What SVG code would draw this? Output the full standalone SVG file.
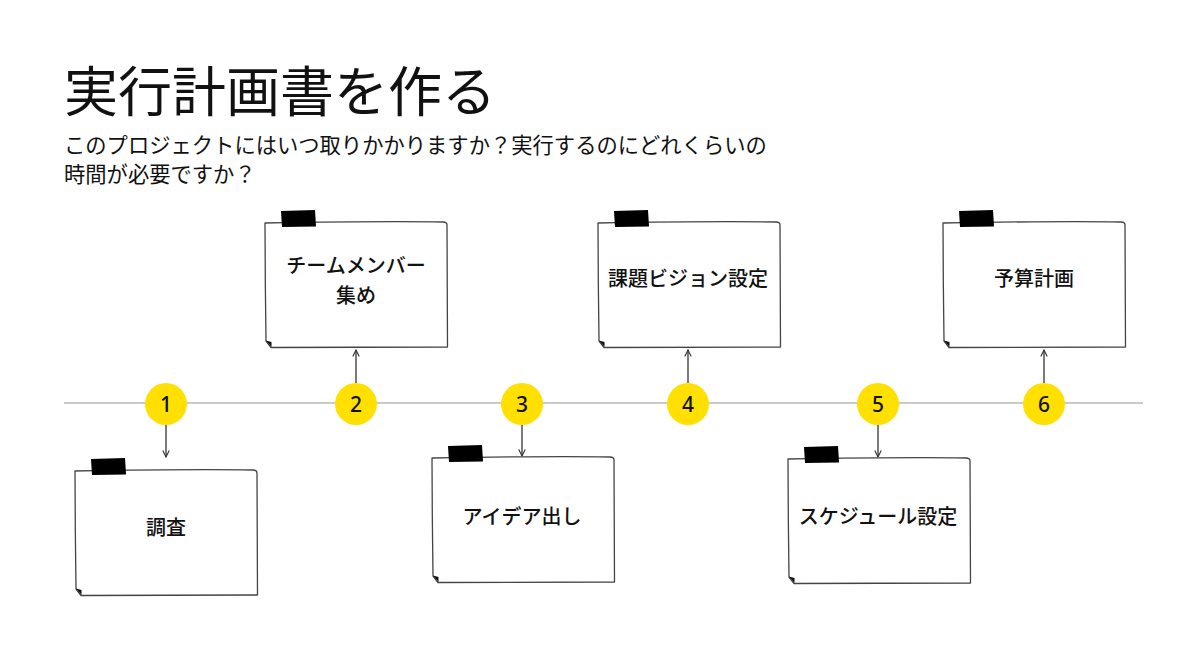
<svg xmlns="http://www.w3.org/2000/svg" width="1200" height="663" viewBox="0 0 1200 663">
<defs>
<style>
.title{font-family:"Noto Sans CJK JP","Noto Sans",sans-serif;font-size:54px;fill:#111;}
.sub{font-family:"Noto Sans CJK JP","Noto Sans",sans-serif;font-size:21.3px;fill:#111;}
.lbl{font-family:"Noto Sans CJK JP","Noto Sans",sans-serif;font-size:20px;font-weight:500;fill:#111;text-anchor:middle;}
.num{font-family:"Noto Sans","Liberation Sans",sans-serif;font-size:21px;font-weight:500;fill:#111;text-anchor:middle;}
.dot{fill:#FFE000;}
.conn{stroke:#333;stroke-width:1.3;fill:none;}
.paper{fill:#fff;stroke:#444;stroke-width:1.3;stroke-linejoin:round;}
</style>
<marker id="arr" viewBox="0 0 10 10" refX="9" refY="5" markerWidth="8" markerHeight="8" markerUnits="userSpaceOnUse" orient="auto">
<path d="M1,1 L9,5 L1,9" fill="none" stroke="#333" stroke-width="1.4"/>
</marker>
<g id="note">
<path class="paper" d="M1,1 C60,0 120,-1 179,0 C181.5,0 183,1.5 183,3 L183.5,125 L7,125.5 L2,119 C1.5,80 1,40 1,1 Z"/>
<path d="M2,118.5 L7.5,120 L7.5,125 Z" fill="#111"/>
<path d="M17,-11 L51,-12 L52,4.5 L18,5 Z" fill="#000"/>
</g>
</defs>
<rect width="1200" height="663" fill="#fff"/>
<text class="title" x="64" y="112">実行計画書を作る</text>
<text class="sub" x="64" y="153">このプロジェクトにはいつ取りかかりますか？実行するのにどれくらいの</text>
<text class="sub" x="64" y="182">時間が必要ですか？</text>
<line x1="64" y1="403" x2="1143" y2="403" stroke="#b8b8b8" stroke-width="1.5"/>
<g id="connectors">
<line class="conn" x1="166" y1="424" x2="166" y2="457" marker-end="url(#arr)"/>
<line class="conn" x1="356" y1="383" x2="356" y2="350" marker-end="url(#arr)"/>
<line class="conn" x1="522" y1="424" x2="522" y2="456" marker-end="url(#arr)"/>
<line class="conn" x1="688" y1="383" x2="688" y2="350" marker-end="url(#arr)"/>
<line class="conn" x1="878" y1="424" x2="878" y2="457" marker-end="url(#arr)"/>
<line class="conn" x1="1044" y1="383" x2="1044" y2="350" marker-end="url(#arr)"/>
</g>
<g id="step1"><circle class="dot" cx="166" cy="404" r="21"/><text class="num" x="166" y="411.5">1</text></g>
<g id="step2"><circle class="dot" cx="356" cy="404" r="21"/><text class="num" x="356" y="411.5">2</text></g>
<g id="step3"><circle class="dot" cx="522" cy="404" r="21"/><text class="num" x="522" y="411.5">3</text></g>
<g id="step4"><circle class="dot" cx="688" cy="404" r="21"/><text class="num" x="688" y="411.5">4</text></g>
<g id="step5"><circle class="dot" cx="878" cy="404" r="21"/><text class="num" x="878" y="411.5">5</text></g>
<g id="step6"><circle class="dot" cx="1044" cy="404" r="21"/><text class="num" x="1044" y="411.5">6</text></g>
<g id="note1"><use href="#note" x="74" y="470"/><text class="lbl" x="166" y="535">調査</text></g>
<g id="note2"><use href="#note" x="264" y="222"/><text class="lbl" x="356" y="273">チームメンバー</text><text class="lbl" x="356" y="303">集め</text></g>
<g id="note3"><use href="#note" x="431" y="457"/><text class="lbl" x="522" y="524">アイデア出し</text></g>
<g id="note4"><use href="#note" x="597" y="222"/><text class="lbl" x="688" y="286">課題ビジョン設定</text></g>
<g id="note5"><use href="#note" x="787" y="458"/><text class="lbl" x="878" y="524">スケジュール設定</text></g>
<g id="note6"><use href="#note" x="942" y="222"/><text class="lbl" x="1034" y="286">予算計画</text></g>
</svg>
